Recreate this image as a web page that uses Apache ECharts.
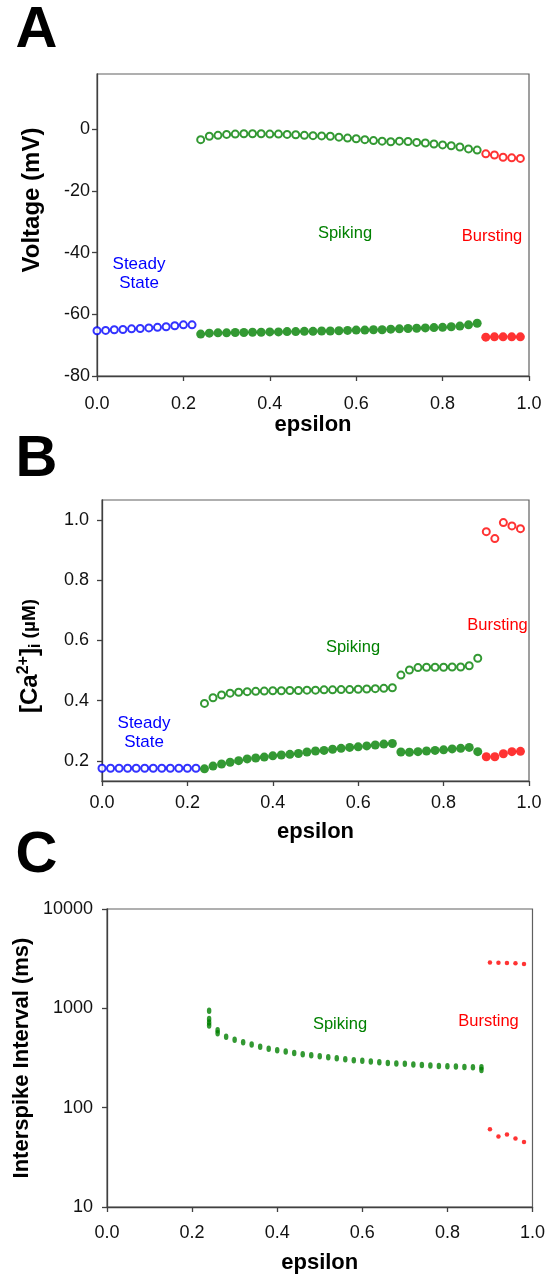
<!DOCTYPE html>
<html>
<head>
<meta charset="utf-8">
<script src="https://cdn.jsdelivr.net/npm/echarts@6/dist/echarts.min.js"></script>
<style>
  html, body { margin: 0; padding: 0; background: #fff; }
  #chart { width: 548px; height: 1279px; }
</style>
</head>
<body>
<div id="chart"></div>
<script>
// ---- epsilon values for each regime ----
const epsSteady = [0.00, 0.02, 0.04, 0.06, 0.08, 0.10, 0.12, 0.14, 0.16, 0.18, 0.20, 0.22];
const epsSpiking = [0.24, 0.26, 0.28, 0.30, 0.32, 0.34, 0.36, 0.38, 0.40, 0.42, 0.44, 0.46,
  0.48, 0.50, 0.52, 0.54, 0.56, 0.58, 0.60, 0.62, 0.64, 0.66, 0.68, 0.70, 0.72, 0.74,
  0.76, 0.78, 0.80, 0.82, 0.84, 0.86, 0.88];
const epsBursting = [0.90, 0.92, 0.94, 0.96, 0.98];

// ---- A: membrane voltage (mV) ----
const vSteady = [-65.3, -65.2, -65.0, -64.9, -64.7, -64.6, -64.4, -64.2, -64.0, -63.7, -63.4, -63.4];
const vSpikingMax = [-3.3, -2.2, -1.9, -1.6, -1.5, -1.4, -1.4, -1.4, -1.5, -1.5, -1.6, -1.7,
  -1.9, -2.0, -2.1, -2.2, -2.5, -2.8, -3.0, -3.3, -3.6, -3.8, -4.0, -3.8, -3.9, -4.2,
  -4.4, -4.7, -5.0, -5.3, -5.7, -6.3, -6.7];
const vSpikingMin = [-66.4, -66.1, -66.0, -66.0, -65.9, -65.9, -65.8, -65.8, -65.7, -65.7,
  -65.6, -65.6, -65.5, -65.5, -65.4, -65.4, -65.3, -65.2, -65.1, -65.1, -65.0, -65.0,
  -64.8, -64.7, -64.6, -64.5, -64.4, -64.3, -64.2, -64.0, -63.8, -63.4, -62.9];
const vBurstingMax = [-7.9, -8.3, -9.0, -9.2, -9.4];
const vBurstingMin = [-67.4, -67.3, -67.3, -67.3, -67.3];

// ---- B: intracellular calcium (uM) ----
const caSteady = [0.176, 0.176, 0.176, 0.176, 0.176, 0.176, 0.176, 0.176, 0.176, 0.176, 0.176, 0.176];
const caSpikingMax = [0.391, 0.410, 0.419, 0.425, 0.428, 0.430, 0.431, 0.432, 0.433, 0.433,
  0.434, 0.434, 0.435, 0.435, 0.436, 0.436, 0.437, 0.437, 0.438, 0.439, 0.440, 0.441, 0.443,
  0.485, 0.502, 0.510, 0.511, 0.511, 0.511, 0.512, 0.512, 0.516, 0.541];
const caSpikingMin = [0.174, 0.183, 0.190, 0.196, 0.201, 0.207, 0.210, 0.213, 0.217, 0.220,
  0.222, 0.225, 0.230, 0.233, 0.235, 0.239, 0.242, 0.245, 0.247, 0.250, 0.253, 0.256, 0.258,
  0.230, 0.229, 0.231, 0.233, 0.235, 0.237, 0.240, 0.242, 0.245, 0.231];
const caBurstingMax = [0.961, 0.938, 0.991, 0.980, 0.971];
const caBurstingMin = [0.214, 0.214, 0.224, 0.231, 0.232];

// ---- C: interspike intervals (ms); several intervals per epsilon where spiking starts ----
const epsIsiSpiking = [0.24, 0.24, 0.24, 0.24, 0.26, 0.26, 0.28, 0.30, 0.32, 0.34, 0.36, 0.38,
  0.40, 0.42, 0.44, 0.46, 0.48, 0.50, 0.52, 0.54, 0.56, 0.58, 0.60, 0.62, 0.64, 0.66, 0.68,
  0.70, 0.72, 0.74, 0.76, 0.78, 0.80, 0.82, 0.84, 0.86, 0.88, 0.88];
const isiSpiking = [944, 780, 720, 670, 600, 560, 518, 484, 455, 432, 410, 391,
  379, 368, 356, 345, 337, 329, 322, 315, 307, 300, 296, 291, 287, 282, 278,
  276, 272, 269, 265, 263, 261, 259, 257, 255, 255, 240];
const isiBurstingLong = [2900, 2876, 2857, 2838, 2793];
const isiBurstingShort = [60.6, 51.2, 53.7, 48.9, 45.1];

// ---- tick labels ----
const vTicks = [-80, -60, -40, -20, 0];
const caTicks = [0.2, 0.4, 0.6, 0.8, 1.0];
const isiTicks = [10, 100, 1000, 10000];

const GREEN = '#008000', BLUE = '#0000ff', RED = '#ff0000';
const FONT = '"Liberation Sans", Arial, sans-serif';
const AXIS_COLOR = '#404040';

const pairs = (xs, ys) => xs.map((x, i) => [x, ys[i]]);

function openSeries(xi, yi, xs, ys, color) {
  return {
    type: 'scatter', xAxisIndex: xi, yAxisIndex: yi, data: pairs(xs, ys),
    symbol: 'circle', symbolSize: 7,
    itemStyle: { color: '#ffffff', borderColor: color, borderWidth: 2 },
    silent: true
  };
}
function filledSeries(xi, yi, xs, ys, color, size) {
  return {
    type: 'scatter', xAxisIndex: xi, yAxisIndex: yi, data: pairs(xs, ys),
    symbol: 'circle', symbolSize: size || 9,
    itemStyle: { color: color },
    silent: true
  };
}

function xAxisFor(grid, labelMargin, nameGap) {
  return {
    gridIndex: grid, type: 'value', min: 0, max: 1, interval: 0.2,
    axisLine: { show: true, onZero: false, lineStyle: { color: AXIS_COLOR, width: 1.3 } },
    axisTick: { show: true, length: 5, lineStyle: { color: AXIS_COLOR, width: 1.3 } },
    axisLabel: { fontSize: 18, color: '#111', fontFamily: FONT, margin: labelMargin,
      formatter: v => v.toFixed(1) },
    splitLine: { show: false },
    name: 'epsilon', nameLocation: 'middle', nameGap: nameGap,
    nameTextStyle: { fontSize: 22, fontWeight: 'bold', color: '#000', fontFamily: FONT }
  };
}

function yAxisBase(grid) {
  return {
    gridIndex: grid,
    axisLine: { show: true, onZero: false, lineStyle: { color: AXIS_COLOR, width: 1.3 } },
    splitLine: { show: false }
  };
}

const gridStyle = { show: true, borderColor: '#606060', borderWidth: 1.2, backgroundColor: 'transparent' };

const chart = echarts.init(document.getElementById('chart'), null, { renderer: 'canvas' });

const option = {
  backgroundColor: '#ffffff',
  animation: false,
  grid: [
    Object.assign({ left: 97, top: 74, width: 432, height: 302 }, gridStyle),
    Object.assign({ left: 102, top: 500, width: 427, height: 281 }, gridStyle),
    Object.assign({ left: 107, top: 909, width: 426, height: 298 }, gridStyle)
  ],
  xAxis: [xAxisFor(0, 19, 37), xAxisFor(1, 13, 40), xAxisFor(2, 17, 45)],
  yAxis: [
    Object.assign(yAxisBase(0), {
      type: 'value', min: -80, max: 18,
      axisTick: { show: true, length: 5, customValues: vTicks, lineStyle: { color: AXIS_COLOR, width: 1.3 } },
      axisLabel: { fontSize: 18, color: '#111', fontFamily: FONT, margin: 7, customValues: vTicks,
        formatter: v => String(v) }
    }),
    Object.assign(yAxisBase(1), {
      type: 'value', min: 0.1336, max: 1.066,
      axisTick: { show: true, length: 5, customValues: caTicks, lineStyle: { color: AXIS_COLOR, width: 1.3 } },
      axisLabel: { fontSize: 18, color: '#111', fontFamily: FONT, margin: 13, customValues: caTicks,
        formatter: v => v.toFixed(1) }
    }),
    Object.assign(yAxisBase(2), {
      type: 'log', logBase: 10, min: 10, max: 10000,
      axisTick: { show: true, length: 5, customValues: isiTicks, lineStyle: { color: AXIS_COLOR, width: 1.3 } },
      axisLabel: { fontSize: 18, color: '#111', fontFamily: FONT, margin: 14, customValues: isiTicks,
        formatter: v => String(Math.round(v)) },
      minorTick: { show: false }
    })
  ],
  series: [
    // A
    openSeries(0, 0, epsSteady, vSteady, BLUE),
    openSeries(0, 0, epsSpiking, vSpikingMax, GREEN),
    filledSeries(0, 0, epsSpiking, vSpikingMin, GREEN),
    openSeries(0, 0, epsBursting, vBurstingMax, RED),
    filledSeries(0, 0, epsBursting, vBurstingMin, RED),
    // B
    openSeries(1, 1, epsSteady, caSteady, BLUE),
    openSeries(1, 1, epsSpiking, caSpikingMax, GREEN),
    filledSeries(1, 1, epsSpiking, caSpikingMin, GREEN),
    openSeries(1, 1, epsBursting, caBurstingMax, RED),
    filledSeries(1, 1, epsBursting, caBurstingMin, RED),
    // C
    {
      type: 'scatter', xAxisIndex: 2, yAxisIndex: 2, data: pairs(epsIsiSpiking, isiSpiking),
      symbol: 'circle', symbolSize: [4.5, 6.5], itemStyle: { color: GREEN }, silent: true
    },
    filledSeries(2, 2, epsBursting, isiBurstingLong, RED, 4.5),
    filledSeries(2, 2, epsBursting, isiBurstingShort, RED, 4.5)
  ],
  graphic: [
    // panel letters
    { type: 'text', x: 36.5, y: 31, style: { text: 'A', fill: '#000', font: 'bold 58px ' + FONT, align: 'center', verticalAlign: 'middle' } },
    { type: 'text', x: 36.5, y: 460, style: { text: 'B', fill: '#000', font: 'bold 58px ' + FONT, align: 'center', verticalAlign: 'middle' } },
    { type: 'text', x: 36.5, y: 856, style: { text: 'C', fill: '#000', font: 'bold 58px ' + FONT, align: 'center', verticalAlign: 'middle' } },
    // y-axis titles
    { type: 'text', x: 32, y: 200, rotation: Math.PI / 2,
      style: { text: 'Voltage (mV)', fill: '#000', font: 'bold 24px ' + FONT, align: 'center', verticalAlign: 'middle' } },
    { type: 'text', x: 30, y: 656, rotation: Math.PI / 2,
      style: {
        text: '{m|[Ca}{sup|2+}{m|]}{sub|i}{u| (µM)}', align: 'center', verticalAlign: 'middle',
        rich: {
          m: { font: 'bold 24px ' + FONT, fill: '#000' },
          sup: { font: 'bold 16px ' + FONT, fill: '#000', padding: [0, 0, 12, 0] },
          sub: { font: 'bold 16px ' + FONT, fill: '#000', padding: [12, 0, 0, 0] },
          u: { font: 'bold 19px ' + FONT, fill: '#000' }
        }
      } },
    { type: 'text', x: 22, y: 1058, rotation: Math.PI / 2,
      style: { text: 'Interspike Interval (ms)', fill: '#000', font: 'bold 22px ' + FONT, align: 'center', verticalAlign: 'middle' } },
    // regime annotations
    { type: 'text', x: 139, y: 274, style: { text: 'Steady\nState', fill: BLUE, font: '17px ' + FONT, lineHeight: 19, align: 'center', verticalAlign: 'middle' } },
    { type: 'text', x: 345, y: 233, style: { text: 'Spiking', fill: GREEN, font: '16.5px ' + FONT, align: 'center', verticalAlign: 'middle' } },
    { type: 'text', x: 492, y: 236, style: { text: 'Bursting', fill: RED, font: '16.5px ' + FONT, align: 'center', verticalAlign: 'middle' } },
    { type: 'text', x: 144, y: 733, style: { text: 'Steady\nState', fill: BLUE, font: '17px ' + FONT, lineHeight: 19, align: 'center', verticalAlign: 'middle' } },
    { type: 'text', x: 353, y: 647, style: { text: 'Spiking', fill: GREEN, font: '16.5px ' + FONT, align: 'center', verticalAlign: 'middle' } },
    { type: 'text', x: 497.5, y: 625, style: { text: 'Bursting', fill: RED, font: '16.5px ' + FONT, align: 'center', verticalAlign: 'middle' } },
    { type: 'text', x: 340, y: 1024.5, style: { text: 'Spiking', fill: GREEN, font: '16.5px ' + FONT, align: 'center', verticalAlign: 'middle' } },
    { type: 'text', x: 488.5, y: 1021, style: { text: 'Bursting', fill: RED, font: '16.5px ' + FONT, align: 'center', verticalAlign: 'middle' } }
  ]
};

chart.setOption(option);
</script>
</body>
</html>
